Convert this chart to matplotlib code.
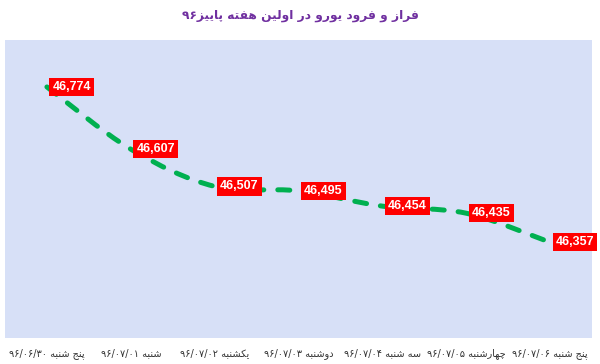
import re
import matplotlib
matplotlib.use("Agg")
import matplotlib.pyplot as plt
from matplotlib.path import Path
from matplotlib.patches import PathPatch

# data
title = "فراز و فرود یورو در اولین هفته پاییز۹۶"
days = ["پنج شنبه ۹۶/۰۶/۳۰", "شنبه ۹۶/۰۷/۰۱", "یکشنبه ۹۶/۰۷/۰۲", "دوشنبه ۹۶/۰۷/۰۳",
        "سه شنبه ۹۶/۰۷/۰۴", "چهارشنبه ۹۶/۰۷/۰۵", "پنج شنبه ۹۶/۰۷/۰۶"]
prices = [46774, 46607, 46507, 46495, 46454, 46435, 46357]

# minimal arabic/persian shaping (iso, fin, ini, med)
DUAL = {
    "ب": "\uFE8F\uFE90\uFE91\uFE92", "پ": "\uFB56\uFB57\uFB58\uFB59",
    "ت": "\uFE95\uFE96\uFE97\uFE98", "ج": "\uFE9D\uFE9E\uFE9F\uFEA0",
    "چ": "\uFB7A\uFB7B\uFB7C\uFB7D", "س": "\uFEB1\uFEB2\uFEB3\uFEB4",
    "ش": "\uFEB5\uFEB6\uFEB7\uFEB8", "ف": "\uFED1\uFED2\uFED3\uFED4",
    "ک": "\uFB8E\uFB8F\uFB90\uFB91", "ل": "\uFEDD\uFEDE\uFEDF\uFEE0",
    "ن": "\uFEE5\uFEE6\uFEE7\uFEE8", "ه": "\uFEE9\uFEEA\uFEEB\uFEEC",
    "ی": "\uFBFC\uFBFD\uFBFE\uFBFF",
}
RIGHT = {
    "ا": "\uFE8D\uFE8E", "د": "\uFEA9\uFEAA", "ر": "\uFEAD\uFEAE",
    "ز": "\uFEAF\uFEB0", "و": "\uFEED\uFEEE",
}


def shape(s):
    out = []
    for i, ch in enumerate(s):
        prv = s[i - 1] if i > 0 else ""
        nxt = s[i + 1] if i + 1 < len(s) else ""
        a = prv in DUAL
        if ch in DUAL:
            b = nxt in DUAL or nxt in RIGHT
            f = DUAL[ch]
            out.append(f[3] if a and b else f[1] if a else f[2] if b else f[0])
        elif ch in RIGHT:
            out.append(RIGHT[ch][1] if a else RIGHT[ch][0])
        else:
            out.append(ch)
    return "".join(out)


def rtl(s):
    runs = re.findall(r"[۰-۹0-9/]+|[^۰-۹0-9/]+", shape(s))
    return "".join(r if r[0] in "۰۱۲۳۴۵۶۷۸۹0123456789" else r[::-1] for r in reversed(runs))


plt.rcParams["font.family"] = ["DejaVu Sans", "Noto Sans"]

fig = plt.figure(figsize=(6, 3.64), dpi=100)
ax = fig.add_axes([0.0083, 0.0714, 0.9784, 0.8187])
ax.set_facecolor("#d7e0f7")
for s in ax.spines.values():
    s.set_visible(False)

x = list(range(len(prices)))
ax.set_xlim(-0.5, len(prices) - 0.5)
ax.set_ylim(46100, 46900)

# smoothed line as bezier segments (Excel style)
pts = list(zip(x, prices))
verts = [pts[0]]
codes = [Path.MOVETO]
for i in range(len(pts) - 1):
    p0 = pts[max(i - 1, 0)]
    p1 = pts[i]
    p2 = pts[i + 1]
    p3 = pts[min(i + 2, len(pts) - 1)]
    c1 = (p1[0] + (p2[0] - p0[0]) / 6, p1[1] + (p2[1] - p0[1]) / 6)
    c2 = (p2[0] - (p3[0] - p1[0]) / 6, p2[1] - (p3[1] - p1[1]) / 6)
    verts += [c1, c2, p2]
    codes += [Path.CURVE4] * 3
ax.add_patch(PathPatch(Path(verts, codes), fill=False, edgecolor="#00b050",
                       lw=3.6, linestyle=(0, (2.4, 2.8)), capstyle="round"))

for xi, v in zip(x, prices):
    ax.annotate(f"{v:,}", (xi, v), xytext=(4, 0), textcoords="offset points",
                ha="left", va="center", color="white", fontsize=9,
                fontweight="bold", family="Liberation Sans",
                bbox=dict(boxstyle="square,pad=0.25", fc="#ff0000", ec="none"))

ax.set_yticks([])
ax.set_xticks(x)
ax.set_xticklabels([rtl(d) for d in days], fontsize=7, color="#333333")
ax.tick_params(axis="x", length=0, pad=7)

fig.text(0.5, 0.958, rtl(title), ha="center", va="center", fontsize=8.8,
         color="#7030a0", fontweight="bold")

fig.savefig("out.png", dpi=100)
